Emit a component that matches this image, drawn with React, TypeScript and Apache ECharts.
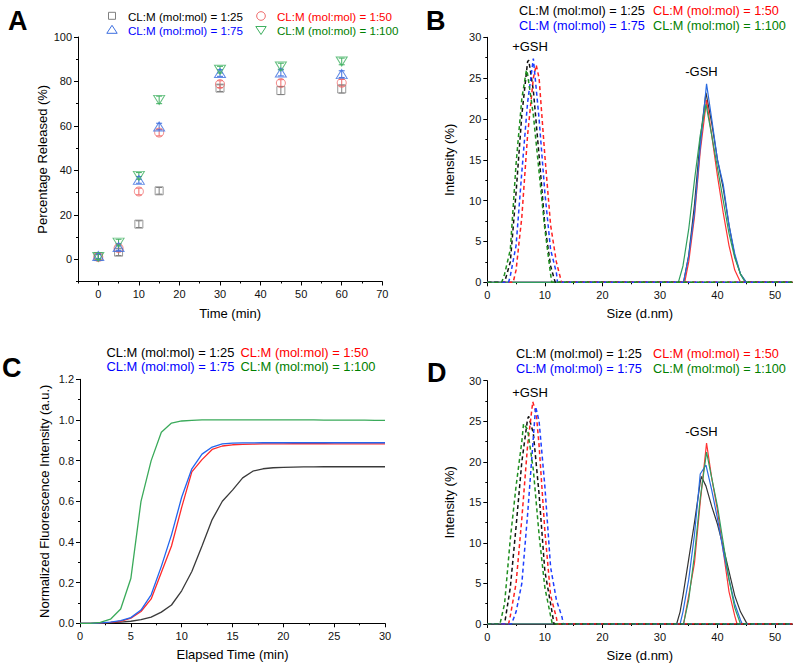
import React, { useEffect, useRef } from "react";
import * as echarts from "echarts";

const FONT = "'Liberation Sans', Arial, Helvetica, sans-serif";

// ---------- shared legend ----------
const legendLabels = [
  "CL:M (mol:mol) = 1:25",
  "CL:M (mol:mol) = 1:50",
  "CL:M (mol:mol) = 1:75",
  "CL:M (mol:mol) = 1:100",
];
const legendTextColors = ["#000000", "#ff0000", "#0000ff", "#008000"];

// ---------- Panel A: release (%) vs time ----------
const timeA = [0, 5, 10, 15, 30, 45, 60];
const relA25 = [1.2, 3.2, 15.8, 30.8, 77.0, 75.9, 76.6];
const relA50 = [1.0, 5.0, 30.5, 57.0, 78.8, 79.3, 79.4];
const relA75 = [1.5, 5.5, 35.7, 59.7, 83.8, 84.0, 83.3];
const relA100 = [1.0, 7.5, 37.5, 71.7, 85.3, 86.7, 89.0];
const errA25 = [1.2, 1.5, 1.5, 1.5, 1.5, 1.8, 1.8];
const errA50 = [1.2, 1.5, 1.5, 1.5, 1.5, 1.5, 1.5];
const errA75 = [1.2, 1.5, 1.5, 1.5, 1.5, 1.5, 1.5];
const errA100 = [1.2, 1.5, 1.5, 1.7, 1.5, 1.5, 1.5];
const markerColorsA = ["#808080", "#f06a6a", "#3d6fe0", "#3fb060"];

// ---------- Panel B: DLS size distributions ----------
const bPlus25 = [[0, 0], [3.0, 0], [4, 2.5], [5, 11], [6, 20.5], [7, 27], [7.2, 27.2], [8, 23.5], [9, 15.5], [10, 7], [11, 2], [11.8, 0], [53, 0]];
const bPlus50 = [[0, 0], [4.5, 0], [5, 1.5], [6, 8], [7, 18], [8, 25], [8.5, 26.6], [9, 25], [10, 15.5], [11, 7], [12, 2.5], [12.9, 0], [53, 0]];
const bPlus75 = [[0, 0], [3.7, 0], [4, 0.8], [5, 4.5], [6, 13.5], [7, 22], [8, 27.4], [9, 20], [10, 11], [11, 4], [12, 1.2], [12.2, 0], [53, 0]];
const bPlus100 = [[0, 0], [2.5, 0], [3, 1], [4, 4], [5, 14.5], [6, 22.5], [6.8, 26], [7, 25.5], [8, 20.5], [9, 13.5], [10, 6.5], [11, 1], [11.2, 0], [53, 0]];
const bMinus25 = [[0, 0], [34.1, 0], [35, 3.3], [36, 9.5], [37, 17.5], [38, 23.2], [39, 19.5], [40, 15], [41, 11.5], [42, 7], [43, 3.2], [44, 1], [45, 0], [53, 0]];
const bMinus50 = [[0, 0], [34.3, 0], [35, 2.5], [36, 8], [37, 16], [38.1, 22.3], [39, 18], [40, 13], [41, 8.5], [42, 4.5], [43, 1.5], [44, 0], [53, 0]];
const bMinus75 = [[0, 0], [34.1, 0], [35, 3.2], [36, 8.5], [37, 16.5], [38.1, 24.3], [39, 20], [40, 15], [41, 12], [42, 7], [43, 3.5], [44, 1], [45, 0], [53, 0]];
const bMinus100 = [[0, 0], [33.2, 0], [34, 2], [35, 6.5], [36, 12.5], [37, 18], [38, 21.8], [39, 18], [40, 14], [41, 10], [42, 6], [43, 3], [44, 1], [44.8, 0], [53, 0]];

// ---------- Panel C: normalized fluorescence vs elapsed time ----------
const timeC = [0, 1, 2, 3, 4, 5, 6, 7, 8, 9, 10, 11, 12, 13, 14, 15, 16, 17, 18, 19, 20, 21, 22, 23, 24, 25, 26, 27, 28, 29, 30];
const fluo25 = [0, 0, 0.001, 0.003, 0.006, 0.01, 0.018, 0.03, 0.055, 0.09, 0.16, 0.255, 0.38, 0.51, 0.6, 0.655, 0.715, 0.748, 0.76, 0.765, 0.767, 0.768, 0.769, 0.769, 0.77, 0.77, 0.77, 0.77, 0.77, 0.77, 0.77];
const fluo50 = [0, 0, 0.002, 0.005, 0.01, 0.025, 0.058, 0.12, 0.25, 0.38, 0.57, 0.745, 0.805, 0.855, 0.872, 0.878, 0.88, 0.881, 0.882, 0.882, 0.882, 0.883, 0.883, 0.883, 0.883, 0.882, 0.882, 0.882, 0.882, 0.882, 0.882];
const fluo75 = [0, 0, 0.002, 0.006, 0.013, 0.028, 0.065, 0.14, 0.28, 0.435, 0.62, 0.76, 0.832, 0.867, 0.882, 0.886, 0.887, 0.887, 0.888, 0.888, 0.888, 0.888, 0.888, 0.888, 0.888, 0.888, 0.888, 0.888, 0.888, 0.888, 0.888];
const fluo100 = [0, 0, 0.005, 0.02, 0.07, 0.22, 0.6, 0.8, 0.94, 0.985, 0.995, 0.998, 1.0, 1.0, 1.0, 1.0, 1.0, 1.0, 1.0, 1.0, 1.0, 1.0, 1.0, 1.0, 0.999, 0.999, 0.999, 0.999, 0.999, 0.998, 0.998];

// ---------- Panel D: DLS size distributions ----------
const dPlus25 = [[0, 0], [3.0, 0], [4, 4.5], [5, 12], [6, 20], [7, 25.3], [7.2, 25.6], [8, 23.5], [9, 16], [10, 6.5], [11, 2.5], [11.6, 0], [53, 0]];
const dPlus50 = [[0, 0], [3.7, 0], [4, 1], [5, 5], [6, 13], [7, 22], [7.9, 27.4], [8.5, 26], [9, 22], [10, 11.5], [11, 3.5], [12, 0.8], [12.2, 0], [53, 0]];
const dPlus75 = [[0, 0], [4.2, 0], [5, 1.5], [6, 5], [7, 13.5], [8, 23], [8.4, 26.8], [9, 25], [10, 17], [11, 7], [12, 3], [13, 0.8], [13.2, 0], [53, 0]];
const dPlus100 = [[0, 0], [2.2, 0], [3, 2.5], [4, 10.5], [5, 17], [6, 22.5], [6.3, 24.7], [7, 24], [8, 19], [9, 11], [10, 4.5], [11, 1], [11.3, 0], [53, 0]];
const dMinus25 = [[0, 0], [32.9, 0], [33.5, 1.5], [34, 3.5], [35, 8], [36, 12.5], [37, 17.5], [37.2, 18.2], [38, 17], [39, 14.5], [40, 12.3], [41, 9.5], [42, 6.5], [43, 3.5], [44, 1.5], [45, 0.2], [45.2, 0], [53, 0]];
const dMinus50 = [[0, 0], [34.1, 0], [35, 3.5], [36, 7.5], [37, 15], [38.1, 22.3], [39, 18], [40, 14], [41, 9], [42, 4], [43, 1], [43.4, 0], [53, 0]];
const dMinus75 = [[0, 0], [33.5, 0], [34, 1.5], [35, 5.5], [36, 11], [37, 18.5], [38, 19.6], [39, 16.5], [40, 13], [41, 9], [42, 5.5], [43, 2.5], [44, 0.5], [44.3, 0], [53, 0]];
const dMinus100 = [[0, 0], [34.1, 0], [35, 3], [36, 8.5], [37, 15.5], [38.1, 21.2], [39, 18], [40, 14.5], [41, 10], [42, 5.5], [43, 2], [44, 0], [53, 0]];

// ---------- tick values ----------
const aXMajor = [0, 10, 20, 30, 40, 50, 60, 70];
const aXMinor = [-5, 5, 15, 25, 35, 45, 55, 65];
const aYMajor = [0, 20, 40, 60, 80, 100];
const aYMinor = [-10, 10, 30, 50, 70, 90];
const sizeMajor = [0, 10, 20, 30, 40, 50];
const sizeMinor = [5, 15, 25, 35, 45];
const intMajor = [0, 5, 10, 15, 20, 25, 30];
const intMinor = [2.5, 7.5, 12.5, 17.5, 22.5, 27.5];
const cXMajor = [0, 5, 10, 15, 20, 25, 30];
const cXMinor = [2.5, 7.5, 12.5, 17.5, 22.5, 27.5];
const cYMajor = [0, 0.2, 0.4, 0.6, 0.8, 1.0, 1.2];
const cYMinor = [0.1, 0.3, 0.5, 0.7, 0.9, 1.1];

const curveColorsC = ["#3a3a3a", "#ff2a2a", "#2266ee", "#3aaa5a"];
const dashColors = ["#111111", "#ff2020", "#1f3fff", "#1f8f1f"];
const solidColors = ["#333333", "#ff3333", "#2a6be0", "#2e9e5e"];

function axisPair(
  kind: "x" | "y",
  grid: number,
  min: number,
  max: number,
  major: number[],
  minor: number[],
  fmt: (v: number) => string,
  name: string,
  nameGap: number
) {
  const position = kind === "x" ? "bottom" : "left";
  const main: any = {
    type: "value",
    gridIndex: grid,
    position,
    offset: 0,
    min,
    max,
    name,
    nameLocation: "middle",
    nameGap,
    nameTextStyle: { fontFamily: FONT, fontSize: 13, color: "#000" },
    axisLine: { show: true, onZero: false, lineStyle: { color: "#000", width: 1 } },
    axisTick: { show: true, inside: false, length: 4, customValues: major, lineStyle: { color: "#000", width: 1 } },
    axisLabel: {
      show: true,
      customValues: major,
      formatter: fmt,
      fontFamily: FONT,
      fontSize: 11,
      color: "#111",
      margin: kind === "x" ? 7 : 6,
    },
    splitLine: { show: false },
    minorTick: { show: false },
  };
  const sub: any = {
    type: "value",
    gridIndex: grid,
    position,
    offset: 0,
    min,
    max,
    axisLine: { show: false, onZero: false },
    axisTick: { show: true, inside: false, length: 2, customValues: minor, lineStyle: { color: "#000", width: 1 } },
    axisLabel: { show: false },
    splitLine: { show: false },
  };
  return [main, sub];
}

const intFmt = (v: number) => String(Math.round(v));
const oneFmt = (v: number) => v.toFixed(1);

function lineSeries(data: number[][], color: string, dashed: boolean, axisIdx: number, width = 1.3) {
  return {
    type: "line",
    xAxisIndex: axisIdx,
    yAxisIndex: axisIdx,
    data,
    symbol: "none",
    showSymbol: false,
    silent: true,
    lineStyle: { color, width: dashed ? 1.5 : width, type: dashed ? [4, 3] : "solid" },
    itemStyle: { color },
    z: 2,
  };
}

function scatterSeries(vals: number[], color: string, symbol: string, size: any, rotate = 0) {
  return {
    type: "scatter",
    xAxisIndex: 0,
    yAxisIndex: 0,
    data: timeA.map((t, i) => [t, vals[i]]),
    symbol,
    symbolSize: size,
    symbolRotate: rotate,
    silent: true,
    itemStyle: { color: "rgba(255,255,255,0)", borderColor: color, borderWidth: 1 },
    z: 4,
  };
}

function errorSeries(vals: number[], errs: number[], color: string) {
  return {
    type: "custom",
    xAxisIndex: 0,
    yAxisIndex: 0,
    silent: true,
    data: timeA.map((t, i) => [t, vals[i] - errs[i], vals[i] + errs[i]]),
    encode: { x: 0, y: [1, 2] },
    renderItem: (params: any, api: any) => {
      const x = api.value(0);
      const p1 = api.coord([x, api.value(1)]);
      const p2 = api.coord([x, api.value(2)]);
      const w = 3;
      const st = { stroke: color, lineWidth: 1 };
      return {
        type: "group",
        children: [
          { type: "line", shape: { x1: p1[0], y1: p1[1], x2: p2[0], y2: p2[1] }, style: st },
          { type: "line", shape: { x1: p1[0] - w, y1: p1[1], x2: p1[0] + w, y2: p1[1] }, style: st },
          { type: "line", shape: { x1: p2[0] - w, y1: p2[1], x2: p2[0] + w, y2: p2[1] }, style: st },
        ],
      };
    },
    z: 3,
  };
}

function txt(text: string, x: number, y: number, color = "#000", size = 13, align = "left", weight = "normal") {
  return {
    type: "text",
    x,
    y,
    silent: true,
    style: {
      text,
      fill: color,
      fontSize: size,
      fontFamily: FONT,
      fontWeight: weight,
      align,
      verticalAlign: "middle",
    },
  };
}

function legendBlock(x1: number, x2: number, y1: number, y2: number, size: number) {
  return [
    txt(legendLabels[0], x1, y1, legendTextColors[0], size),
    txt(legendLabels[1], x2, y1, legendTextColors[1], size),
    txt(legendLabels[2], x1, y2, legendTextColors[2], size),
    txt(legendLabels[3], x2, y2, legendTextColors[3], size),
  ];
}

export default function App() {
  const ref = useRef<HTMLDivElement>(null);

  useEffect(() => {
    if (!ref.current) return;
    const chart = echarts.init(ref.current, undefined, { renderer: "svg" });

    const [ax, axm] = axisPair("x", 0, -5, 70, aXMajor, aXMinor, intFmt, "Time (min)", 25);
    const [ay, aym] = axisPair("y", 0, -10, 100, aYMajor, aYMinor, intFmt, "Percentage Released (%)", 29);
    const [bx, bxm] = axisPair("x", 1, 0, 53, sizeMajor, sizeMinor, intFmt, "Size (d.nm)", 25);
    const [by, bym] = axisPair("y", 1, 0, 30, intMajor, intMinor, intFmt, "Intensity (%)", 31);
    const [cx, cxm] = axisPair("x", 2, 0, 30, cXMajor, cXMinor, intFmt, "Elapsed Time (min)", 25);
    const [cy, cym] = axisPair("y", 2, 0, 1.2, cYMajor, cYMinor, oneFmt, "Normalized Fluorescence Intensity (a.u.)", 29);
    const [dx, dxm] = axisPair("x", 3, 0, 53, sizeMajor, sizeMinor, intFmt, "Size (d.nm)", 25);
    const [dy, dym] = axisPair("y", 3, 0, 30, intMajor, intMinor, intFmt, "Intensity (%)", 31);

    const relA = [relA25, relA50, relA75, relA100];
    const errA = [errA25, errA50, errA75, errA100];
    const fluo = [fluo25, fluo50, fluo75, fluo100];
    const bPlus = [bPlus25, bPlus50, bPlus75, bPlus100];
    const bMinus = [bMinus25, bMinus50, bMinus75, bMinus100];
    const dPlus = [dPlus25, dPlus50, dPlus75, dPlus100];
    const dMinus = [dMinus25, dMinus50, dMinus75, dMinus100];

    const series: any[] = [];
    // Panel A
    for (let i = 0; i < 4; i++) series.push(errorSeries(relA[i], errA[i], markerColorsA[i]));
    series.push(scatterSeries(relA25, markerColorsA[0], "rect", 8));
    series.push(scatterSeries(relA50, markerColorsA[1], "circle", 9));
    series.push(scatterSeries(relA75, markerColorsA[2], "triangle", [11, 9]));
    series.push(scatterSeries(relA100, markerColorsA[3], "triangle", [11, 9], 180));
    // Panel B
    for (let i = 0; i < 4; i++) series.push(lineSeries(bMinus[i], solidColors[i], false, 2, 1.2));
    for (let i = 0; i < 4; i++) series.push(lineSeries(bPlus[i], dashColors[i], true, 2));
    // Panel C
    for (let i = 0; i < 4; i++)
      series.push(lineSeries(timeC.map((t, k) => [t, fluo[i][k]]), curveColorsC[i], false, 4, 1.3));
    // Panel D
    for (let i = 0; i < 4; i++) series.push(lineSeries(dMinus[i], solidColors[i], false, 6, 1.2));
    for (let i = 0; i < 4; i++) series.push(lineSeries(dPlus[i], dashColors[i], true, 6));

    const graphic: any[] = [
      txt("A", 8, 21, "#000", 27, "left", "bold"),
      txt("B", 426, 21, "#000", 27, "left", "bold"),
      txt("C", 2, 368, "#000", 27, "left", "bold"),
      txt("D", 427, 373, "#000", 27, "left", "bold"),
      // legend A with markers
      { type: "rect", silent: true, shape: { x: 108.5, y: 12.3, width: 7, height: 7 }, style: { fill: "none", stroke: markerColorsA[0], lineWidth: 1 } },
      { type: "circle", silent: true, shape: { cx: 261, cy: 16, r: 4.3 }, style: { fill: "none", stroke: markerColorsA[1], lineWidth: 1 } },
      { type: "polygon", silent: true, shape: { points: [[112, 25.3], [117.2, 33.3], [106.8, 33.3]] }, style: { fill: "none", stroke: markerColorsA[2], lineWidth: 1 } },
      { type: "polygon", silent: true, shape: { points: [[255.8, 26.5], [266.2, 26.5], [261, 34.5]] }, style: { fill: "none", stroke: markerColorsA[3], lineWidth: 1 } },
      ...legendBlock(128, 277, 16, 30, 11.6),
      ...legendBlock(519, 653, 11, 25.5, 12.7),
      ...legendBlock(106.5, 240.5, 352, 366.5, 12.9),
      ...legendBlock(516, 653, 353.5, 368.5, 12.7),
      txt("+GSH", 530, 46.5, "#000", 13, "center"),
      txt("-GSH", 701.5, 71, "#000", 13, "center"),
      txt("+GSH", 530, 392.5, "#000", 13, "center"),
      txt("-GSH", 701.5, 431.5, "#000", 13, "center"),
    ];

    chart.setOption({
      animation: false,
      backgroundColor: "#ffffff",
      textStyle: { fontFamily: FONT },
      grid: [
        { left: 78, top: 37, width: 304.3, height: 244.5, outerBoundsMode: "none", containLabel: false },
        { left: 487.3, top: 37.3, width: 305, height: 245, outerBoundsMode: "none", containLabel: false },
        { left: 80, top: 379.3, width: 305, height: 244, outerBoundsMode: "none", containLabel: false },
        { left: 487.3, top: 380.7, width: 305, height: 243.3, outerBoundsMode: "none", containLabel: false },
      ],
      xAxis: [ax, axm, bx, bxm, cx, cxm, dx, dxm],
      yAxis: [ay, aym, by, bym, cy, cym, dy, dym],
      series,
      graphic,
    });

    return () => {
      chart.dispose();
    };
  }, []);

  return (
    <div
      ref={ref}
      style={{ position: "fixed", left: 0, top: 0, width: 800, height: 665, background: "#fff" }}
    />
  );
}
